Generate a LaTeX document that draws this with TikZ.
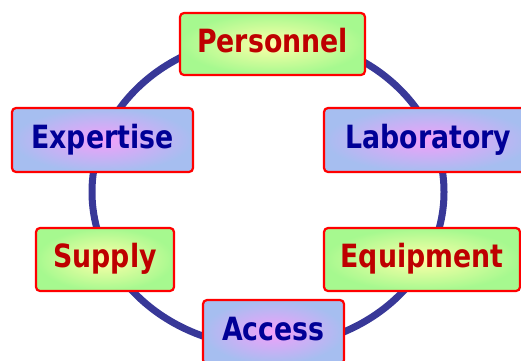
\documentclass[tikz,border=0pt]{standalone}
\usepackage{fontspec}
\newfontfamily\boxfont[FakeStretch=0.93]{DejaVu Sans Condensed}
\definecolor{ringblue}{RGB}{56,56,152}
\definecolor{gout}{RGB}{166,249,143}
\definecolor{gin}{RGB}{255,255,168}
\definecolor{bout}{RGB}{166,190,240}
\definecolor{bin}{RGB}{242,160,250}
\definecolor{redtxt}{RGB}{190,0,0}
\definecolor{bluetxt}{RGB}{0,0,150}
\definecolor{boxred}{RGB}{255,0,0}
\tikzset{
  every node/.style={font=\boxfont\bfseries\fontsize{32bp}{38bp}\selectfont},
  boxbase/.style={draw=boxred, line width=2.2bp, rounded corners=4bp, inner sep=0pt,
     text height=23bp, text depth=7bp},
  greenbox/.style={boxbase, inner color=gin, outer color=gout, text=redtxt},
  bluebox/.style={boxbase, inner color=bin, outer color=bout, text=bluetxt},
  ring/.style={draw=ringblue, line width=7bp}
}
\begin{document}
\begin{tikzpicture}[x=1bp,y=-1bp]
\path[use as bounding box] (0,0) rectangle (521,360);
\clip (0,0) rectangle (521,360);
\draw[ring] (268,192) ellipse [x radius=176, y radius=155];
\node[greenbox, minimum width=185bp, minimum height=62bp] (pers) at (272.5,44) {Personnel};
\node[bluebox, minimum width=181bp, minimum height=64bp] (expe) at (102.5,140) {Expertise};
\node[bluebox, minimum width=209bp, minimum height=64bp] (labo) at (428.5,140) {Laboratory};
\node[greenbox, minimum width=138bp, minimum height=63bp] (supp) at (105,259.5) {Supply};
\node[greenbox, minimum width=196bp, minimum height=63bp] (equi) at (422,259.5) {Equipment};
\node[bluebox, minimum width=141bp, minimum height=64bp] (acce) at (273.5,332) {Access};
\end{tikzpicture}
\end{document}
